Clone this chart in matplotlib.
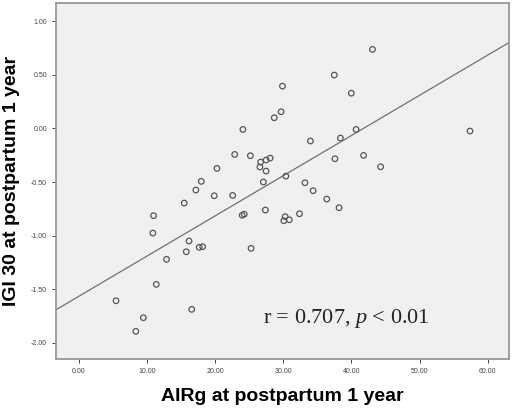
import numpy as np
import matplotlib
matplotlib.use("Agg")
from matplotlib import pyplot as plt

plt.rcParams['font.family'] = ['Liberation Sans', 'DejaVu Sans']
plt.rcParams['mathtext.fontset'] = 'custom'
plt.rcParams['mathtext.it'] = 'Liberation Serif:italic'
plt.rcParams['mathtext.rm'] = 'Liberation Serif'

# AIRg (x) and IGI 30 (y) at postpartum 1 year
airg = [43.1, 37.5, 29.9, 40.0, 28.7, 29.7, 24.1, 40.7, 57.4,
        34.0, 38.4, 22.9, 25.2, 41.8, 37.6, 26.7, 27.5, 28.1, 26.6,
        27.5, 20.3, 44.3, 18.0, 30.4, 27.1, 33.2, 17.2, 34.4, 19.9,
        22.6, 36.4, 15.5, 38.2, 27.4, 11.0, 24.3, 24.0, 32.4, 30.3,
        30.1, 30.9, 10.9, 16.2, 17.7, 18.2, 15.8, 25.3, 12.9, 11.4,
        5.5, 16.6, 9.5, 8.4]
igi30 = [0.736, 0.497, 0.394, 0.328, 0.099, 0.155, -0.01, -0.01, -0.025,
         -0.118, -0.09, -0.243, -0.255, -0.252, -0.283, -0.314, -0.295, -0.277, -0.36,
         -0.398, -0.373, -0.358, -0.494, -0.445, -0.5, -0.507, -0.575, -0.581, -0.628,
         -0.625, -0.659, -0.696, -0.740, -0.761, -0.814, -0.80, -0.81, -0.796, -0.823,
         -0.861, -0.852, -0.976, -1.05, -1.109, -1.103, -1.15, -1.118, -1.221, -1.454,
         -1.607, -1.687, -1.765, -1.892]

# fit line as drawn in the figure
slope = 0.0375
intercept = -1.567

xticks = [0, 10, 20, 30, 40, 50, 60]
yticks = [1.0, 0.5, 0.0, -0.5, -1.0, -1.5, -2.0]

fig = plt.figure(figsize=(5.14, 4.11), dpi=100)
ax = fig.add_axes([0.109, 0.1265, 0.881, 0.866])
ax.set_facecolor('#f0f0f0')

ax.scatter(airg, igi30, s=16, facecolors='none', edgecolors='#555555', linewidths=0.9, zorder=3)

xlim = (-3.3, 63.1)
xs = np.array(xlim)
ax.plot(xs, intercept + slope * xs, color='#707070', lw=0.9, zorder=2)

ax.set_xlim(xlim)
ax.set_ylim(-2.15, 1.168)
ax.set_xticks(xticks)
ax.set_yticks(yticks)
ax.set_xticklabels(['%.2f' % v for v in xticks])
ax.set_yticklabels(['%.2f' % v for v in yticks])
ax.tick_params(labelsize=5, colors='#444444', length=3, width=0.7)

for s in ax.spines.values():
    s.set_color('#999999')
    s.set_linewidth(1.3)

ax.set_xlabel('AIRg at postpartum 1 year', fontsize=14, fontweight='bold', labelpad=9)
ax.set_ylabel('IGI 30 at postpartum 1 year', fontsize=14, fontweight='bold', labelpad=8)

ax.text(27.0, -1.815, r'r = 0.707, $p$ < 0.01', fontsize=16,
        family=['Liberation Serif', 'DejaVu Serif'], color='#222222')

fig.savefig('out.png', dpi=100)
